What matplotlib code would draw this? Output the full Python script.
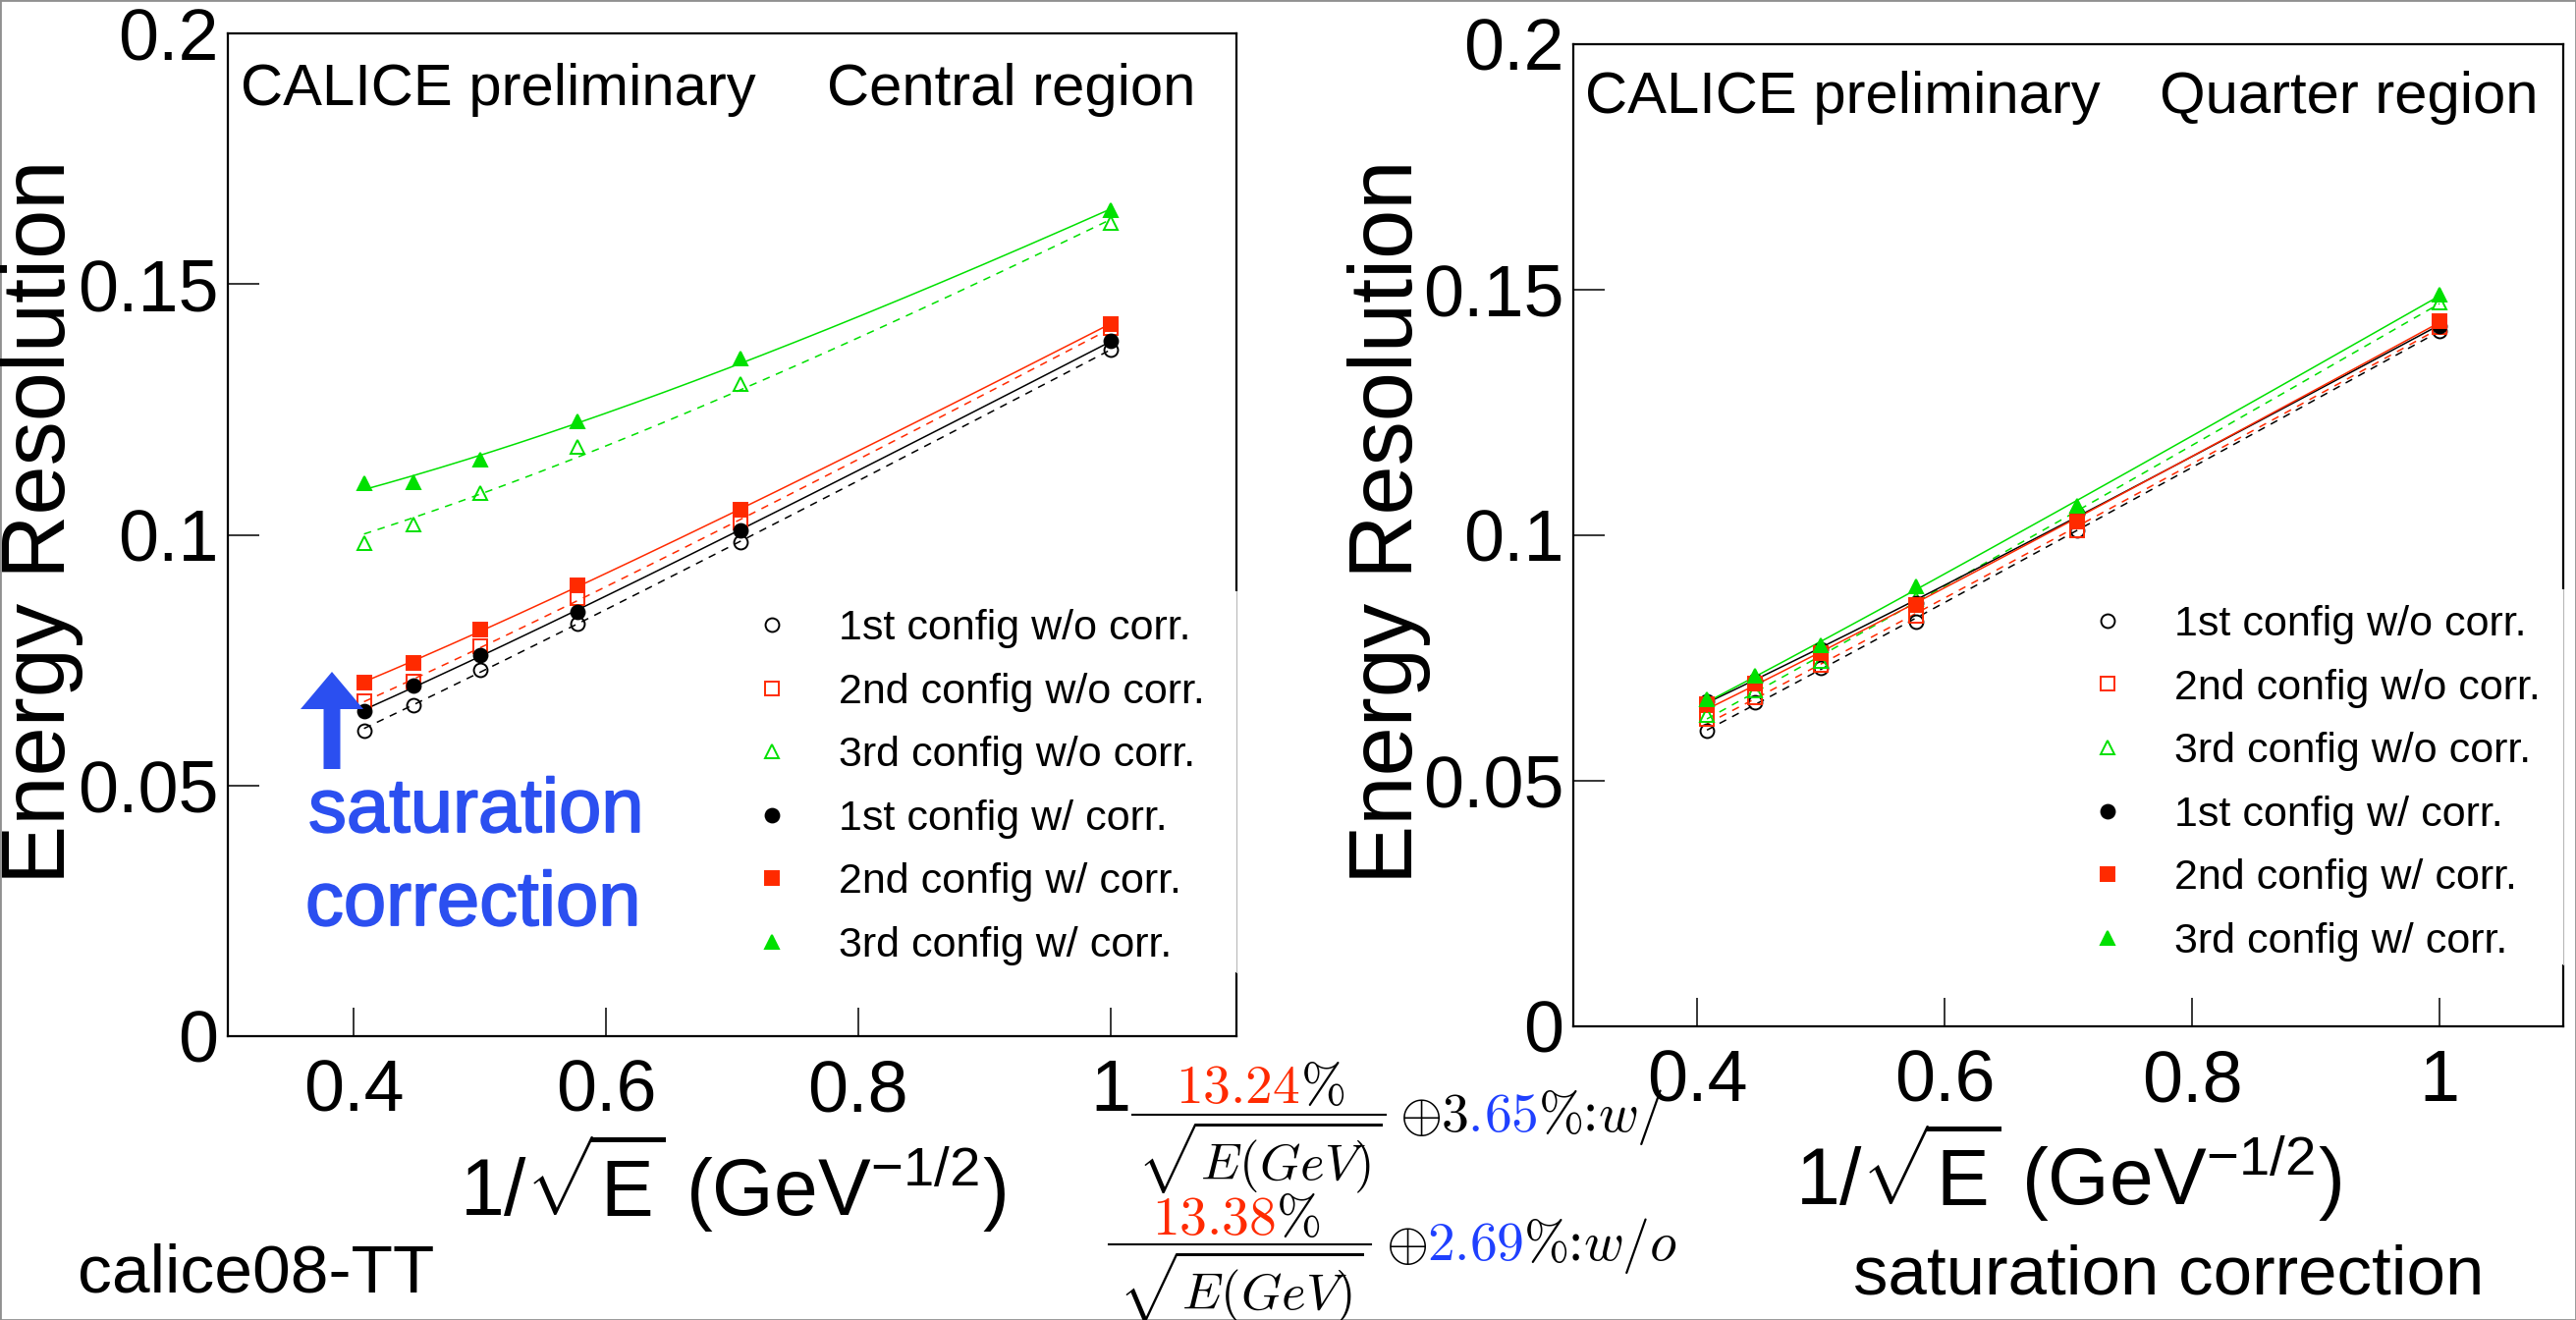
import numpy as np
import matplotlib
matplotlib.use("Agg")
import matplotlib.pyplot as plt
from matplotlib.lines import Line2D
from matplotlib.patches import FancyArrow, Rectangle
from matplotlib.transforms import Affine2D
import matplotlib.patheffects as pe

plt.rcParams['font.family'] = ['Liberation Sans', 'DejaVu Sans']
plt.rcParams['mathtext.fontset'] = 'custom'
plt.rcParams['mathtext.rm'] = 'Liberation Sans'
plt.rcParams['mathtext.it'] = 'Liberation Sans:italic'
plt.rcParams['mathtext.bf'] = 'Liberation Sans:bold'

# 1/sqrt(E) for E = 6, 5, 4, 3, 2, 1 GeV
inv_sqrt_e = [0.408, 0.447, 0.500, 0.577, 0.707, 1.000]

labels = ["1st config w/o corr.", "2nd config w/o corr.", "3rd config w/o corr.",
          "1st config w/ corr.", "2nd config w/ corr.", "3rd config w/ corr."]

# central region
central_1st_wo = [0.0610, 0.0661, 0.0730, 0.0822, 0.0986, 0.1369]
central_2nd_wo = [0.0667, 0.0708, 0.0778, 0.0874, 0.1025, 0.1412]
central_3rd_wo = [0.0983, 0.1020, 0.1084, 0.1176, 0.1301, 0.1622]
central_1st_w = [0.0649, 0.0699, 0.0761, 0.0847, 0.1008, 0.1386]
central_2nd_w = [0.0706, 0.0745, 0.0810, 0.0900, 0.1049, 0.1421]
central_3rd_w = [0.1102, 0.1104, 0.1149, 0.1227, 0.1351, 0.1647]

# quarter region
quarter_1st_wo = [0.0603, 0.0660, 0.0730, 0.0824, 0.1010, 0.1416]
quarter_2nd_wo = [0.0626, 0.0670, 0.0737, 0.0837, 0.1010, 0.1424]
quarter_3rd_wo = [0.0634, 0.0685, 0.0745, 0.0870, 0.1040, 0.1474]
quarter_1st_w = [0.0663, 0.0705, 0.0768, 0.0862, 0.1045, 0.1427]
quarter_2nd_w = [0.0657, 0.0698, 0.0760, 0.0858, 0.1028, 0.1436]
quarter_3rd_w = [0.0667, 0.0715, 0.0777, 0.0897, 0.1060, 0.1490]

RED = '#ff2a00'
GREEN = '#00e000'
BLUE_TXT = '#2b4ff0'
BLUE_NUM = '#1f40ff'

colors = ['black', RED, GREEN, 'black', RED, GREEN]
markers = ['o', 's', '^', 'o', 's', '^']
filled = [False, False, False, True, True, True]

W, H = 2623, 1344
fig = plt.figure(figsize=(W / 100, H / 100), dpi=100)
# reference pixel coordinates, y going down
px = Affine2D().scale(1 / W, -1 / H).translate(0, 1) + fig.transFigure

ax1 = fig.add_axes([232 / W, 1 - 1055 / H, 1027 / W, 1021 / H])
ax2 = fig.add_axes([1602 / W, 1 - 1045 / H, 1008 / W, 1000 / H])


def draw_panel(ax, series, leg_anchor, cover):
    x = np.array(inv_sqrt_e)
    handles = []
    for y, c, m, f in zip(series, colors, markers, filled):
        y = np.array(y)
        # resolution fit: sigma^2 = a^2/E + b^2
        k, b = np.polyfit(x ** 2, y ** 2, 1)
        xx = np.linspace(x.min(), x.max(), 200)
        ls = '-' if f else (0, (5, 4.5))
        ax.plot(xx, np.sqrt(k * xx ** 2 + max(b, 0)), color=c, lw=1.1, ls=ls, zorder=2)
        h, = ax.plot(x, y, ls='none', marker=m, ms=10, mec=c, mew=1.4,
                     mfc=c if f else 'none', zorder=3)
        handles.append(h)
    ax.set_xlim(0.3, 1.1)
    ax.set_ylim(0, 0.2)
    ax.set_xticks([0.4, 0.6, 0.8, 1.0])
    ax.set_xticklabels(['0.4', '0.6', '0.8', '1'])
    ax.set_yticks([0, 0.05, 0.1, 0.15, 0.2])
    ax.set_yticklabels(['0', '0.05', '0.1', '0.15', '0.2'])
    ax.tick_params(axis='both', direction='in', labelsize=53, width=1.1)
    ax.tick_params(axis='y', length=23, pad=7)
    ax.tick_params(axis='x', length=21, pad=16)
    for s in ax.spines.values():
        s.set_linewidth(1.6)
    ax.legend(handles, labels, loc='upper left', bbox_to_anchor=leg_anchor,
              frameon=False, fontsize=31, borderpad=0, borderaxespad=0,
              handlelength=1.2, handletextpad=0.98, labelspacing=0.57, numpoints=1)
    y0, y1 = cover
    ax.add_patch(Rectangle((0.99, y0), 0.02, y1 - y0, transform=ax.transAxes,
                           facecolor='white', edgecolor='none', zorder=4, clip_on=False))
    ax.plot([1, 1], [y0, y1], transform=ax.transAxes, color='#b8b8b8', lw=0.8,
            clip_on=False, zorder=5)


draw_panel(ax1, [central_1st_wo, central_2nd_wo, central_3rd_wo,
                 central_1st_w, central_2nd_w, central_3rd_w],
           (0.514, 0.426), (0.064, 0.444))
draw_panel(ax2, [quarter_1st_wo, quarter_2nd_wo, quarter_3rd_wo,
                 quarter_1st_w, quarter_2nd_w, quarter_3rd_w],
           (0.514, 0.429), (0.063, 0.445))

xlabel = r'1/$\sqrt{\mathrm{E}}$ (GeV$^{\mathrm{-1/2}}$)'
ax1.text(0.5, -0.179, xlabel, transform=ax1.transAxes, ha='center', va='baseline',
         fontsize=58, math_fontfamily='custom')
ax2.text(0.5, -0.182, xlabel, transform=ax2.transAxes, ha='center', va='baseline',
         fontsize=58, math_fontfamily='custom')

for xb in (66, 1438):
    fig.text(xb, 531, 'Energy Resolution', transform=px, rotation=90,
             rotation_mode='anchor', ha='center', va='baseline', fontsize=65)

fig.text(245, 107, 'CALICE preliminary', transform=px, fontsize=43, va='baseline')
fig.text(842, 107, 'Central region', transform=px, fontsize=43, va='baseline')
fig.text(1614, 115, 'CALICE preliminary', transform=px, fontsize=43, va='baseline')
fig.text(2199, 115, 'Quarter region', transform=px, fontsize=43, va='baseline')

fig.text(79, 1316, 'calice08-TT', transform=px, fontsize=50, va='baseline')
fig.text(1887, 1317, 'saturation correction', transform=px, fontsize=51, va='baseline')

# saturation correction annotation
stroke = [pe.withStroke(linewidth=1.3, foreground=BLUE_TXT)]
fig.text(314, 847, 'saturation', transform=px, fontsize=56, color=BLUE_TXT,
         va='baseline', path_effects=stroke)
fig.text(311, 942, 'correction', transform=px, fontsize=56, color=BLUE_TXT,
         va='baseline', path_effects=stroke)
fig.add_artist(FancyArrow(338, 783, 0, -99, width=17, head_width=64, head_length=38,
                          length_includes_head=True, transform=px,
                          color=BLUE_TXT, lw=0))

# resolution formulas
renderer = fig.canvas.get_renderer()


def chain(x, y, pieces, size=40, va='baseline'):
    for s, c in pieces:
        kw = {'math_fontfamily': 'cm'} if s.startswith('$') else {'family': 'Liberation Serif'}
        t = fig.text(x, y, s, transform=px, color=c, fontsize=size, va=va, ha='left', **kw)
        x += t.get_window_extent(renderer).width


def formula(num, const_pieces, num_x, num_y, bar_x0, bar_x1, bar_y, den_x, den_y, rest_x, rest_y):
    chain(num_x, num_y, [(r'$%s$' % num, RED), (r'$\%$', 'black')])
    fig.add_artist(Line2D([bar_x0, bar_x1], [bar_y, bar_y], transform=px, color='black', lw=1.5))
    fig.text(den_x, den_y, r'$\sqrt{E(GeV)}$', transform=px, fontsize=38,
             math_fontfamily='cm', va='top', ha='left')
    chain(rest_x, rest_y, [(r'$\oplus\,$', 'black')] + const_pieces)


formula('13.24', [(r'$3$', 'black'), (r'$.\!65$', BLUE_NUM), (r'$\%$', 'black'),
                  (':', 'black'), (r'$w/$', 'black')],
        1197, 1123, 1153, 1411, 1135, 1158, 1140, 1425, 1152)
formula('13.38', [(r'$2.69$', BLUE_NUM), (r'$\%$', 'black'), (':', 'black'),
                  (r'$w/o$', 'black')],
        1173, 1257, 1129, 1396, 1267, 1139, 1272, 1411, 1283)

fig.add_artist(Rectangle((0, 0), 1, 1, transform=fig.transFigure, fill=False,
                         edgecolor='#909090', lw=2))

fig.savefig('out.png', dpi=100)
